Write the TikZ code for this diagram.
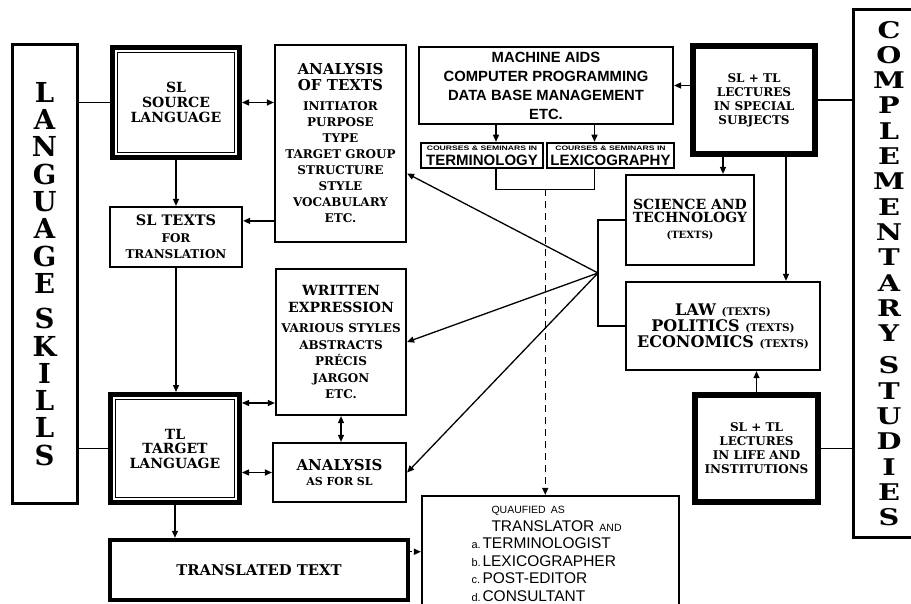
\documentclass[tikz,border=0pt]{standalone}
\usepackage{fontspec}
\setmainfont{DejaVu Serif}
\newfontfamily\sansfam{Liberation Sans}
\newfontfamily\widefam[FakeStretch=1.25]{DejaVu Serif}
\usetikzlibrary{arrows.meta, calc}
\newcommand{\fsz}[2]{\fontsize{#1}{#2}\selectfont}
\tikzset{
    box/.style={draw, line width=2.2pt, inner sep=0pt, align=center},
    heavybox/.style={box, line width=6pt},
    framebox/.style={box, line width=5pt, path picture={
        \draw[line width=1pt] ([shift={(5pt,-5pt)}]path picture bounding box.north west) rectangle ([shift={(-5pt,5pt)}]path picture bounding box.south east);
    }},
    bar/.style={draw, line width=3pt, inner sep=0pt, align=center},
    link/.style={line width=1.3pt},
    arr/.style={link, ->, >={Stealth[length=7pt, width=6pt, inset=0pt]}},
    dblarr/.style={arr, <->}
}

\begin{document}
\begin{tikzpicture}[x=1pt, y=-1pt]
\useasboundingbox (0,0) rectangle (911,604);
\clip (0,0) rectangle (911,604);

% side bars
\node[bar, minimum width=65pt, minimum height=458pt, font=\bfseries\fsz{27.5}{27.3}] (langbar) at (44.5,274) {L\\A\\N\\G\\U\\A\\G\\E\\[8pt]S\\K\\I\\L\\L\\S};
\node[bar, minimum width=72pt, minimum height=527pt, font=\widefam\bfseries\fsz{23}{25.3}] (compbar) at (889,273.5) {C\\O\\M\\P\\L\\E\\M\\E\\N\\T\\A\\R\\Y\\[7pt]S\\T\\U\\D\\I\\E\\S};

% language column
\node[framebox, minimum width=127pt, minimum height=110pt, font=\bfseries\fsz{14}{15}] (slbox) at (176,102.5) {SL\\SOURCE\\LANGUAGE};
\node[box, minimum width=132pt, minimum height=60pt, font=\bfseries\fsz{12}{16.5}] (sltexts) at (176,237) {{\fsz{14.5}{16.5}SL TEXTS}\\FOR\\TRANSLATION};
\node[framebox, minimum width=129pt, minimum height=108pt, font=\bfseries\fsz{14}{14.5}] (tlbox) at (175,448.5) {TL\\TARGET\\LANGUAGE};
\node[box, line width=4.5pt, minimum width=298pt, minimum height=60pt, font=\bfseries\fsz{14.8}{16}] (transtext) at (259,570) {TRANSLATED TEXT};

% analysis column
\node[box, minimum width=131pt, minimum height=197pt, font=\bfseries\fsz{12}{16}] (anatext) at (340.5,143.5) {{\fsz{15}{16}ANALYSIS}\\{\fsz{15}{16}OF TEXTS}\\[4pt]INITIATOR\\PURPOSE\\TYPE\\TARGET GROUP\\STRUCTURE\\STYLE\\VOCABULARY\\ETC.};
\node[box, minimum width=130pt, minimum height=146pt, font=\bfseries\fsz{12}{16.5}] (written) at (341,342) {{\fsz{14}{16}WRITTEN}\\{\fsz{14}{16}EXPRESSION}\\[4pt]VARIOUS STYLES\\ABSTRACTS\\PRÉCIS\\JARGON\\ETC.};
\node[box, minimum width=133pt, minimum height=59pt, font=\bfseries\fsz{11}{15}] (anasl) at (339.5,472.5) {{\fsz{15}{15}ANALYSIS}\\AS FOR SL};

% machine aids and courses
\node[box, minimum width=254pt, minimum height=77pt, font=\sansfam\bfseries\fsz{14.8}{19}] (machine) at (546,85.5) {MACHINE AIDS\\COMPUTER PROGRAMMING\\DATA BASE MANAGEMENT\\ETC.};
\node[box, line width=2.5pt, minimum width=122pt, minimum height=25pt, font=\sansfam\bfseries\fsz{15}{15}] (termbox) at (482,155.5) {\scalebox{1.33}[1]{\fsz{6.5}{6.5}COURSES \& SEMINARS IN}\\TERMINOLOGY};
\node[box, line width=2.5pt, minimum width=127pt, minimum height=25pt, font=\sansfam\bfseries\fsz{15}{15}] (lexbox) at (610.5,155.5) {\scalebox{1.33}[1]{\fsz{6.5}{6.5}COURSES \& SEMINARS IN}\\LEXICOGRAPHY};
\node[box, minimum width=257pt, minimum height=116pt, text width=196pt, align=left, font=\sansfam\fsz{15.5}{17.5}] (qualbox) at (550.5,554) {\hspace*{39pt}{\fsz{10.5}{10}QUAUFIED AS}\\
\hspace*{39pt}TRANSLATOR {\fsz{10.5}{10}AND}\\
\hspace*{19pt}\makebox[11pt][l]{\fsz{11}{10}a.}TERMINOLOGIST\\
\hspace*{19pt}\makebox[11pt][l]{\fsz{11}{10}b.}LEXICOGRAPHER\\
\hspace*{19pt}\makebox[11pt][l]{\fsz{11}{10}c.}POST-EDITOR\\
\hspace*{19pt}\makebox[11pt][l]{\fsz{11}{10}d.}CONSULTANT};

% complementary column
\node[heavybox, minimum width=122pt, minimum height=108pt, font=\bfseries\fsz{12}{14}] (lecspec) at (754,100) {SL + TL\\LECTURES\\IN SPECIAL\\SUBJECTS};
\node[box, minimum width=128pt, minimum height=90pt, font=\bfseries\fsz{14}{13}] (science) at (690,220) {SCIENCE AND\\TECHNOLOGY\\[3pt]{\fsz{10}{10}(TEXTS)}};
\node[box, minimum width=194pt, minimum height=88pt, font=\bfseries\fsz{16}{16}] (law) at (723,326) {LAW {\fsz{10.5}{10}(TEXTS)}\\POLITICS {\fsz{10.5}{10}(TEXTS)}\\ECONOMICS {\fsz{10.5}{10}(TEXTS)}};
\node[heavybox, minimum width=123pt, minimum height=107pt, font=\bfseries\fsz{12}{14}] (leclife) at (756.5,448.5) {SL + TL\\LECTURES\\IN LIFE AND\\INSTITUTIONS};

% connectors, left
\draw[link] (slbox.west -| langbar.east) -- (slbox.west);
\draw[link] (tlbox.west -| langbar.east) -- (tlbox.west);
\draw[dblarr] (slbox.east) -- (slbox.east -| anatext.west);
\draw[arr] (slbox.south) -- (sltexts.north);
\coordinate (slin) at ([yshift=-15pt]sltexts.north east);
\draw[arr] (anatext.west |- slin) -- (slin);
\draw[arr] (sltexts.south) -- (sltexts.south |- tlbox.north);
\coordinate (tw) at ([yshift=-11pt]tlbox.north east);
\draw[dblarr] (tw) -- (tw -| written.west);
\draw[dblarr] (tlbox.east |- anasl.west) -- (anasl.west);
\draw[dblarr] (written.south) -- (written.south |- anasl.north);
\draw[arr] (tlbox.south) -- (tlbox.south |- transtext.north);
\coordinate (tq) at ([yshift=-14pt]transtext.north east);
\draw[arr, dash pattern=on 2pt off 2pt] (tq) -- (tq -| qualbox.west);

% connectors, courses
\coordinate (tdrop) at ([xshift=14pt]termbox.north);
\coordinate (ldrop) at ([xshift=-16pt]lexbox.north);
\draw[arr] (tdrop |- machine.south) -- (tdrop);
\draw[arr] (ldrop |- machine.south) -- (ldrop);
\coordinate (tb) at (tdrop |- termbox.south);
\coordinate (lb) at (ldrop |- lexbox.south);
\draw[link] (tb) -- ++(0,20) -| (lb);
\coordinate (bmid) at ($(tb)!0.5!(lb) + (0,20)$);
\draw[arr, dash pattern=on 7pt off 5pt] (bmid) -- (bmid |- qualbox.north);

% connectors, right
\draw[arr] (lecspec.west |- machine.east) -- (machine.east);
\draw[link] (lecspec.east) -- (lecspec.east -| compbar.west);
\draw[link] (leclife.east) -- (leclife.east -| compbar.west);
\coordinate (sdrop) at ([xshift=33pt]science.north);
\draw[arr] (sdrop |- lecspec.south) -- (sdrop);
\coordinate (lawdrop) at ([xshift=-32pt]lecspec.south east);
\draw[arr] (lawdrop) -- (lawdrop |- law.north);
\draw[arr] (leclife.north) -- (leclife.north |- law.south);
\coordinate (hub) at (598,273);
\draw[link] (science.west) -- (science.west -| hub) -- (law.west -| hub) -- (law.west);
\draw[arr] (hub) -- ([yshift=-30pt]anatext.east);
\draw[arr] (hub) -- (written.east);
\draw[arr] (hub) -- (anasl.east);
\end{tikzpicture}
\end{document}
